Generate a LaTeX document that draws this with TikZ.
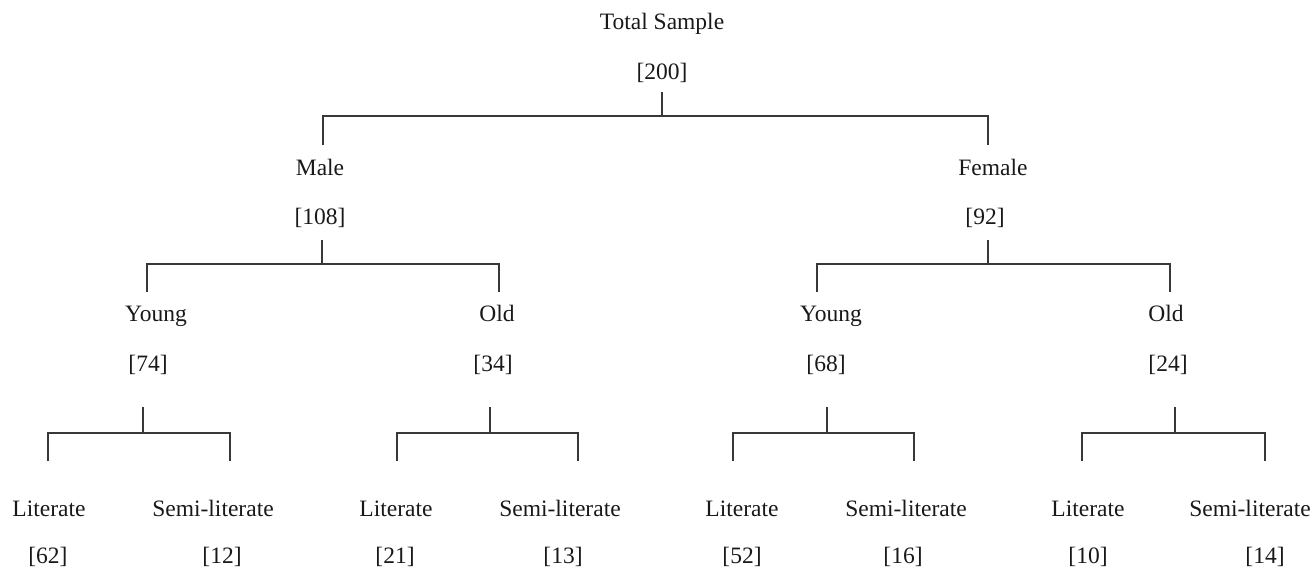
\documentclass[tikz,border=0pt]{standalone}
\usepackage{fontspec}
\setmainfont{Liberation Serif}
\begin{document}
\begin{tikzpicture}[x=1pt,y=-1pt,
  lbl/.style={inner sep=0pt,anchor=center,text height=16pt,text depth=5pt,font=\fontsize{23.5}{26}\selectfont,text=black!90},
  conn/.style={line width=1.3pt,draw=black!78}]
\useasboundingbox (0,0) rectangle (1314,569);
% level 0
\node[lbl] (tot) at (662,24) {Total Sample};
\node[lbl] (totn) at (662,74) {[200]};
% level 1
\node[lbl] (male) at (320,170) {Male};
\node[lbl] (malen) at (320,219) {[108]};
\node[lbl] (fem) at (993,170) {Female};
\node[lbl] (femn) at (985,219) {[92]};
% level 2
\node[lbl] (my) at (156,316) {Young};
\node[lbl] (myn) at (148,366) {[74]};
\node[lbl] (mo) at (497,316) {Old};
\node[lbl] (mon) at (493,366) {[34]};
\node[lbl] (fy) at (831,316) {Young};
\node[lbl] (fyn) at (826,366) {[68]};
\node[lbl] (fo) at (1166,316) {Old};
\node[lbl] (fon) at (1168,366) {[24]};
% level 3
\node[lbl] (myl) at (49,511) {Literate};
\node[lbl] (myln) at (48,558) {[62]};
\node[lbl] (mys) at (213,511) {Semi-literate};
\node[lbl] (mysn) at (222,558) {[12]};
\node[lbl] (mol) at (396,511) {Literate};
\node[lbl] (moln) at (395,558) {[21]};
\node[lbl] (mos) at (560,511) {Semi-literate};
\node[lbl] (mosn) at (563,558) {[13]};
\node[lbl] (fyl) at (742,511) {Literate};
\node[lbl] (fyln) at (742,558) {[52]};
\node[lbl] (fys) at (906,511) {Semi-literate};
\node[lbl] (fysn) at (903,558) {[16]};
\node[lbl] (fol) at (1088,511) {Literate};
\node[lbl] (foln) at (1088,558) {[10]};
\node[lbl] (fos) at (1250,511) {Semi-literate};
\node[lbl] (fosn) at (1265,558) {[14]};
% connector coordinates
\coordinate (s0t) at (662,92);  \coordinate (s0b) at (662,116);
\coordinate (b0l) at (323,116); \coordinate (b0r) at (988,116);
\coordinate (e0l) at (323,145); \coordinate (e0r) at (988,145);
\coordinate (s1t) at (322,240); \coordinate (s1b) at (322,264);
\coordinate (b1l) at (147,264); \coordinate (b1r) at (499,264);
\coordinate (e1l) at (147,292); \coordinate (e1r) at (499,292);
\coordinate (s2t) at (988,240); \coordinate (s2b) at (988,264);
\coordinate (b2l) at (817,264); \coordinate (b2r) at (1170,264);
\coordinate (e2l) at (817,292); \coordinate (e2r) at (1170,292);
\coordinate (s3t) at (143,407); \coordinate (s3b) at (143,433);
\coordinate (b3l) at (48,433);  \coordinate (b3r) at (230,433);
\coordinate (e3l) at (48,461);  \coordinate (e3r) at (230,461);
\coordinate (s4t) at (490,407); \coordinate (s4b) at (490,433);
\coordinate (b4l) at (397,433); \coordinate (b4r) at (578,433);
\coordinate (e4l) at (397,461); \coordinate (e4r) at (578,461);
\coordinate (s5t) at (827,407); \coordinate (s5b) at (827,433);
\coordinate (b5l) at (733,433); \coordinate (b5r) at (914,433);
\coordinate (e5l) at (733,461); \coordinate (e5r) at (914,461);
\coordinate (s6t) at (1175,407); \coordinate (s6b) at (1175,433);
\coordinate (b6l) at (1082,433); \coordinate (b6r) at (1265,433);
\coordinate (e6l) at (1082,461); \coordinate (e6r) at (1265,461);
\foreach \i in {0,...,6}{
  \draw[conn] (s\i t) -- (s\i b);
  \draw[conn] (e\i l) -- (b\i l) -- (b\i r) -- (e\i r);
}
\end{tikzpicture}
\end{document}
